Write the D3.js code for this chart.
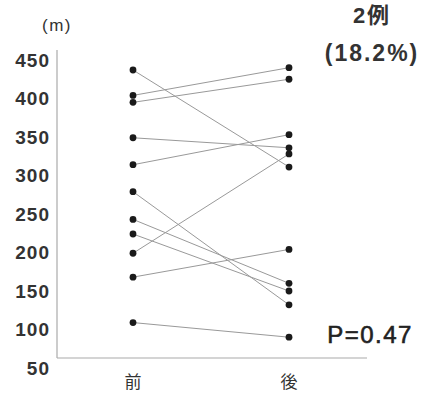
<!DOCTYPE html>
<html lang="ja">
  <head>
    <meta charset="utf-8" />
    <title>前後比較</title>
    <style>
      body {
        margin: 0;
        background: #fff;
        overflow: hidden;
      }
      svg {
        display: block;
        font-family: 'Liberation Sans', Arial, sans-serif;
      }
    </style>
  </head>
  <body>
    <div class="container"></div>
    <script src="https://cdn.jsdelivr.net/npm/d3@7"></script>
    <script>
      // values (m)
      const groups = ['前', '後'];
      const before = [437, 404, 395, 349, 314, 279, 243, 224, 199, 168, 109];
      const after = [311, 440, 425, 336, 353, 132, 160, 150, 328, 204, 90];
      const yTicks = [50, 100, 150, 200, 250, 300, 350, 400, 450];

      const width = 421;
      const height = 394;

      const svg = d3
        .select('div.container')
        .append('svg')
        .attr('width', width)
        .attr('height', height);

      const y = d3.scaleLinear().domain([50, 450]).range([368, 60]);
      const x = d3.scalePoint().domain(groups).range([133, 289]);

      // frame lines
      svg
        .append('line')
        .attr('x1', 57)
        .attr('x2', 57)
        .attr('y1', y(463))
        .attr('y2', y(63))
        .attr('stroke', '#aaa')
        .attr('stroke-width', 1.2);
      svg
        .append('line')
        .attr('x1', 57)
        .attr('x2', 367)
        .attr('y1', y(63))
        .attr('y2', y(63))
        .attr('stroke', '#aaa')
        .attr('stroke-width', 1.2);

      // y tick labels
      const yAxis = svg
        .append('g')
        .attr('transform', 'translate(50,0)')
        .call(d3.axisLeft(y).tickValues(yTicks).tickSize(0).tickPadding(0));
      yAxis.select('.domain').remove();
      yAxis
        .selectAll('text')
        .attr('fill', '#333')
        .style('font-size', '19px')
        .style('font-weight', 'bold')
        .style('letter-spacing', '1px')
        .style('font-family', "'Liberation Sans', Arial, sans-serif");

      // x labels
      svg
        .selectAll('text.xl')
        .data(groups)
        .join('text')
        .attr('class', 'xl')
        .attr('x', (d) => x(d))
        .attr('y', 380)
        .attr('text-anchor', 'middle')
        .attr('dominant-baseline', 'central')
        .attr('fill', '#333')
        .style('font-family', "'Noto Sans CJK JP', sans-serif")
        .style('font-size', '17px')
        .text((d) => d);

      svg
        .append('text')
        .attr('x', 57)
        .attr('y', 25)
        .attr('text-anchor', 'middle')
        .attr('dominant-baseline', 'central')
        .attr('fill', '#333')
        .style('font-size', '17px')
        .style('letter-spacing', '1.5px')
        .text('(m)');

      // paired lines
      const pairs = before.map((b, i) => ({ b, a: after[i] }));
      svg
        .append('g')
        .selectAll('line')
        .data(pairs)
        .join('line')
        .attr('x1', x(groups[0]))
        .attr('x2', x(groups[1]))
        .attr('y1', (d) => y(d.b))
        .attr('y2', (d) => y(d.a))
        .attr('stroke', '#999')
        .attr('stroke-width', 1);

      const dots = svg.append('g').attr('fill', '#1a1a1a');
      dots
        .selectAll('circle.b')
        .data(before)
        .join('circle')
        .attr('class', 'b')
        .attr('cx', x(groups[0]))
        .attr('cy', (d) => y(d))
        .attr('r', 3.4);
      dots
        .selectAll('circle.a')
        .data(after)
        .join('circle')
        .attr('class', 'a')
        .attr('cx', x(groups[1]))
        .attr('cy', (d) => y(d))
        .attr('r', 3.4);

      // annotations
      svg
        .append('text')
        .attr('x', 372)
        .attr('y', 15)
        .attr('text-anchor', 'middle')
        .attr('dominant-baseline', 'central')
        .attr('fill', '#333')
        .style('font-family', "'Liberation Sans', 'Noto Sans CJK JP', sans-serif")
        .style('font-size', '22px')
        .style('font-weight', 'bold')
        .style('letter-spacing', '2px')
        .text('2例');
      svg
        .append('text')
        .attr('x', 372)
        .attr('y', 53)
        .attr('text-anchor', 'middle')
        .attr('dominant-baseline', 'central')
        .attr('fill', '#333')
        .style('font-size', '23px')
        .style('font-weight', 'bold')
        .style('letter-spacing', '2px')
        .text('(18.2%)');
      svg
        .append('text')
        .attr('x', 370)
        .attr('y', 334)
        .attr('text-anchor', 'middle')
        .attr('dominant-baseline', 'central')
        .attr('fill', '#222')
        .attr('stroke', '#222')
        .attr('stroke-width', 0.6)
        .style('font-size', '24px')
        .style('letter-spacing', '1.5px')
        .text('P=0.47');
    </script>
  </body>
</html>
